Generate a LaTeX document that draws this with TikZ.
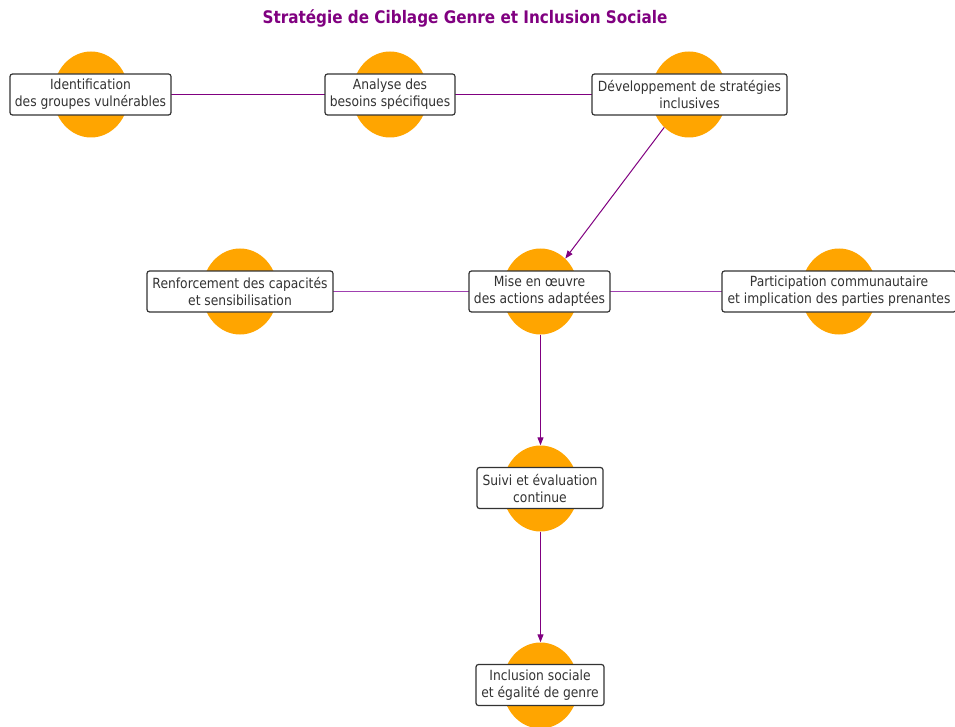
\documentclass[tikz,border=0pt]{standalone}
\usepackage{fontspec}
\setmainfont{DejaVu Sans}[FakeStretch=0.88]
\usetikzlibrary{arrows.meta,shapes.geometric}
\definecolor{mpurple}{HTML}{800080}
\definecolor{mlight}{HTML}{A040B0}
\definecolor{morange}{HTML}{FFA500}
\definecolor{tgray}{HTML}{333333}
\tikzset{
  blob/.style={ellipse, fill=morange, draw=none, minimum width=76pt, minimum height=86pt, inner sep=0pt},
  box/.style={rectangle, rounded corners=2.5pt, draw=tgray, line width=1.2pt, fill=white, text=tgray,
    align=center, minimum height=41pt, inner sep=0pt, font=\fontsize{14}{17}\selectfont},
  edge/.style={draw=mpurple, line width=1.1pt},
  edgelight/.style={draw=mlight, line width=1.8pt},
  arr/.style={draw=mpurple, line width=1.0pt, -{Triangle[length=8pt,width=6pt]}},
}
\begin{document}
\begin{tikzpicture}[x=1pt,y=-1pt]
\useasboundingbox (0,0) rectangle (955,727);
\node[font=\bfseries\fontsize{17.3}{20}\selectfont, text=mpurple] (title) at (465,18) {Stratégie de Ciblage Genre et Inclusion Sociale};
% ellipses
\node[blob] (c1) at (91,94.5) {};
\node[blob] (c2) at (390,94.5) {};
\node[blob] (c3) at (689,94.5) {};
\node[blob] (c4) at (240,291.5) {};
\node[blob] (c5) at (540.5,291.5) {};
\node[blob] (c6) at (839,291.5) {};
\node[blob] (c7) at (540.5,488.5) {};
\node[blob] (c8) at (540.5,685.5) {};
% edges
\draw[edge] (c1) -- (c2);
\draw[edge] (c2) -- (c3);
\draw[edgelight] (c4) -- (c5);
\draw[edgelight] (c5) -- (c6);
\draw[arr] (c3) -- (c5);
\draw[arr] (c5) -- (c7);
\draw[arr] (c7) -- (c8);
% boxes
\node[box, minimum width=161pt] (n1) at (90.5,94.5) {Identification\\des groupes vulnérables};
\node[box, minimum width=130pt] (n2) at (390,94.5) {Analyse des\\besoins spécifiques};
\node[box, minimum width=195pt] (n3) at (689.5,94.5) {Développement de stratégies\\inclusives};
\node[box, minimum width=186pt] (n4) at (240,291.5) {Renforcement des capacités\\et sensibilisation};
\node[box, minimum width=141pt] (n5) at (539.5,291.5) {Mise en œuvre\\des actions adaptées};
\node[box, minimum width=234pt] (n6) at (839,291.5) {Participation communautaire\\et implication des parties prenantes};
\node[box, minimum width=126pt] (n7) at (540,488) {Suivi et évaluation\\continue};
\node[box, minimum width=128pt] (n8) at (540,685) {Inclusion sociale\\et égalité de genre};
\end{tikzpicture}
\end{document}
